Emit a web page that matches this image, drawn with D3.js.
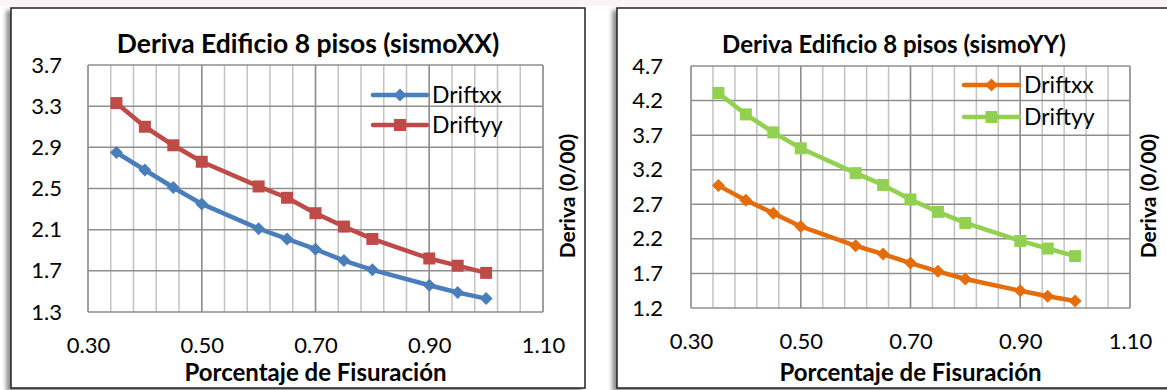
<!DOCTYPE html>
<head>
<meta charset="utf-8">
<script src="https://d3js.org/d3.v7.min.js"></script>
<style>
  body { margin: 0; background: #fff; }
  text { font-family: Lato, "Open Sans", sans-serif; fill: #000; }
  .tick text { font-size: 22px; }
  .title { font-weight: bold; }
  .x-title { font-size: 24px; font-weight: bold; }
  .y-title { font-size: 21px; font-weight: bold; }
  .legend text { font-size: 23px; }
  .grid-minor { stroke: #c3c3c3; stroke-width: 1.5px; }
  .grid-major { stroke: #8e8e8e; stroke-width: 1.5px; }
  .frame { fill: #fff; stroke: #222; stroke-width: 1.5px; }
</style>
</head>
<body>
<script>

// porcentaje de fisuracion (x) shared by every series
var fisuracion = [0.35, 0.40, 0.45, 0.50, 0.60, 0.65, 0.70, 0.75, 0.80, 0.90, 0.95, 1.00];

// sismo XX
var xxDriftxx = [2.85, 2.68, 2.51, 2.35, 2.11, 2.01, 1.91, 1.80, 1.71, 1.56, 1.49, 1.43];
var xxDriftyy = [3.33, 3.10, 2.92, 2.76, 2.52, 2.41, 2.26, 2.13, 2.01, 1.82, 1.75, 1.68];

// sismo YY
var yyDriftxx = [2.97, 2.76, 2.57, 2.38, 2.10, 1.98, 1.85, 1.73, 1.62, 1.45, 1.37, 1.30];
var yyDriftyy = [4.31, 4.00, 3.74, 3.51, 3.15, 2.98, 2.77, 2.59, 2.43, 2.17, 2.06, 1.95];

var seriesNames = ["Driftxx", "Driftyy"];
var xTicks = [0.30, 0.50, 0.70, 0.90, 1.10];
var yTicksXX = [1.3, 1.7, 2.1, 2.5, 2.9, 3.3, 3.7];
var yTicksYY = [1.2, 1.7, 2.2, 2.7, 3.2, 3.7, 4.2, 4.7];
var xMinorStep = 0.04;

var width = 1167;
var height = 390;

var svg = d3.select("body")
    .append("svg")
    .attr("width", width)
    .attr("height", height);

// faint pink strip along the top edge
svg.append("rect")
    .attr("x", 0).attr("y", 0)
    .attr("width", width).attr("height", 6)
    .attr("fill", "#fcf3f5");

var filter = svg.append("defs").append("filter")
    .attr("id", "shadow")
    .attr("x", "-5%").attr("y", "-5%")
    .attr("width", "110%").attr("height", "110%");
filter.append("feDropShadow")
    .attr("dx", -4).attr("dy", 3)
    .attr("stdDeviation", 2)
    .attr("flood-color", "#000")
    .attr("flood-opacity", 0.45);

function diamond(r) {
    return "M0," + (-r) + "L" + r + ",0L0," + r + "L" + (-r) + ",0Z";
}

function square(r) {
    return "M" + (-r) + "," + (-r) + "h" + (2 * r) + "v" + (2 * r) + "h" + (-2 * r) + "Z";
}

function drawChart(c) {

    svg.append("rect")
        .attr("class", "frame")
        .attr("x", c.box[0]).attr("y", c.box[1])
        .attr("width", c.box[2]).attr("height", c.box[3])
        .attr("filter", "url(#shadow)");

    var x = d3.scaleLinear()
        .domain([xTicks[0], xTicks[xTicks.length - 1]])
        .range([c.plot[0], c.plot[1]]);

    var y = d3.scaleLinear()
        .domain([c.yTicks[0], c.yTicks[c.yTicks.length - 1]])
        .range([c.plot[3], c.plot[2]]);

    var g = svg.append("g");

    // minor vertical gridlines
    var minor = d3.range(xTicks[0], xTicks[xTicks.length - 1] + 0.001, xMinorStep);
    g.selectAll(".grid-minor")
        .data(minor)
        .enter()
        .append("line")
        .attr("class", "grid-minor")
        .attr("x1", function (d) { return x(d); })
        .attr("x2", function (d) { return x(d); })
        .attr("y1", c.plot[2])
        .attr("y2", c.plot[3]);

    g.selectAll(".grid-v")
        .data(xTicks)
        .enter()
        .append("line")
        .attr("class", "grid-major")
        .attr("x1", function (d) { return x(d); })
        .attr("x2", function (d) { return x(d); })
        .attr("y1", c.plot[2])
        .attr("y2", c.plot[3]);

    g.selectAll(".grid-h")
        .data(c.yTicks)
        .enter()
        .append("line")
        .attr("class", "grid-major")
        .attr("x1", c.plot[0])
        .attr("x2", c.plot[1])
        .attr("y1", function (d) { return y(d); })
        .attr("y2", function (d) { return y(d); });

    var yAxis = svg.append("g")
        .attr("transform", "translate(" + c.plot[0] + ",0)")
        .call(d3.axisLeft(y).tickValues(c.yTicks).tickSize(0).tickPadding(c.yPad)
            .tickFormat(d3.format(".1f")));
    yAxis.select(".domain").remove();

    var xAxis = svg.append("g")
        .attr("transform", "translate(0," + c.plot[3] + ")")
        .call(d3.axisBottom(x).tickValues(xTicks).tickSize(0).tickPadding(25)
            .tickFormat(d3.format(".2f")));
    xAxis.select(".domain").remove();

    svg.selectAll(".tick text")
        .attr("fill", "#000")
        .attr("font-family", null)
        .attr("font-size", null);

    var line = d3.line()
        .x(function (d) { return x(d[0]); })
        .y(function (d) { return y(d[1]); });

    c.series.forEach(function (s) {
        var pts = fisuracion.map(function (f, i) { return [f, s.values[i]]; });

        svg.append("path")
            .datum(pts)
            .attr("fill", "none")
            .attr("stroke", s.color)
            .attr("stroke-width", 4.5)
            .attr("stroke-linejoin", "round")
            .attr("d", line);

        svg.selectAll(null)
            .data(pts)
            .enter()
            .append("path")
            .attr("fill", s.color)
            .attr("transform", function (d) {
                return "translate(" + x(d[0]) + "," + y(d[1]) + ")";
            })
            .attr("d", s.marker);
    });

    // legend
    var leg = svg.append("g").attr("class", "legend");
    c.series.forEach(function (s, i) {
        var ly = c.legend[2] + i * c.legend[3];
        leg.append("line")
            .attr("x1", c.legend[0]).attr("x2", c.legend[1])
            .attr("y1", ly).attr("y2", ly)
            .attr("stroke", s.color)
            .attr("stroke-width", 4.5)
            .attr("stroke-linecap", "round");
        leg.append("path")
            .attr("fill", s.color)
            .attr("transform", "translate(" + ((c.legend[0] + c.legend[1]) / 2) + "," + ly + ")")
            .attr("d", s.marker);
        leg.append("text")
            .attr("x", c.legend[1] + 5)
            .attr("y", ly)
            .attr("dy", "0.36em")
            .text(seriesNames[i]);
    });

    svg.append("text")
        .attr("class", "title")
        .attr("x", c.titleX)
        .attr("y", 53)
        .attr("text-anchor", "middle")
        .style("font-size", c.titleSize + "px")
        .text(c.title);

    svg.append("text")
        .attr("class", "x-title")
        .attr("x", (c.plot[0] + c.plot[1]) / 2)
        .attr("y", 381)
        .attr("text-anchor", "middle")
        .text("Porcentaje de Fisuración");

    svg.append("text")
        .attr("class", "y-title")
        .attr("transform", "translate(" + c.yTitleX + ",196) rotate(-90)")
        .attr("text-anchor", "middle")
        .text("Deriva (0/00)");
}

drawChart({
    box: [11, 8, 574, 380],
    plot: [88, 543, 65, 312],
    yTicks: yTicksXX,
    yPad: 26,
    title: "Deriva Edificio 8 pisos (sismoXX)",
    titleX: 308,
    titleSize: 26.5,
    yTitleX: 575,
    legend: [373, 427, 95, 30],
    series: [
        { values: xxDriftxx, color: "#4a7ebb", marker: diamond(6.5) },
        { values: xxDriftyy, color: "#be4b48", marker: square(6) }
    ]
});

drawChart({
    box: [617, 8, 560, 380],
    plot: [691, 1130, 66, 308],
    yTicks: yTicksYY,
    yPad: 28,
    title: "Deriva Edificio 8 pisos (sismoYY)",
    titleX: 894,
    titleSize: 24,
    yTitleX: 1156,
    legend: [964, 1019, 85, 32],
    series: [
        { values: yyDriftxx, color: "#e46c0a", marker: diamond(6.5) },
        { values: yyDriftyy, color: "#92d050", marker: square(6) }
    ]
});

</script>
</body>
